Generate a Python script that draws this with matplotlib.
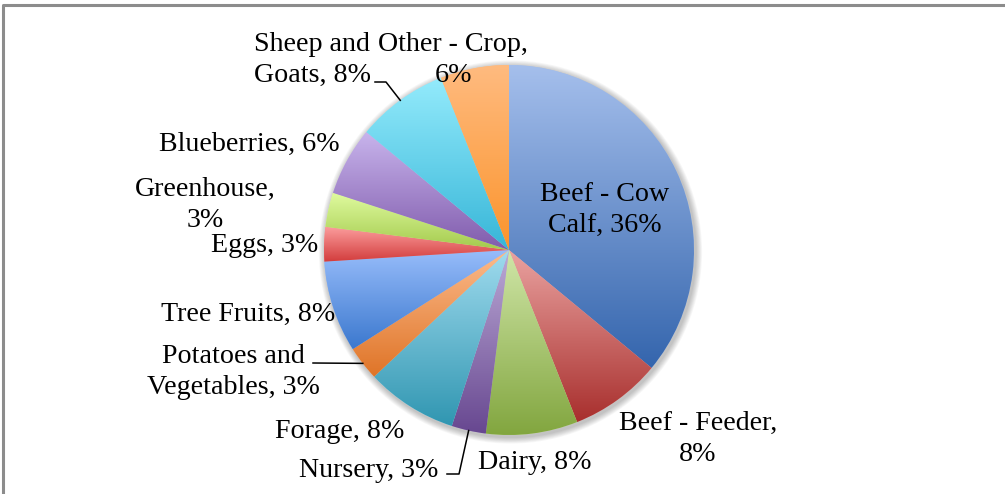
import numpy as np
import matplotlib.pyplot as plt
from matplotlib.colors import LinearSegmentedColormap
from matplotlib.patches import Circle

categories = ['Beef - Cow Calf', 'Beef - Feeder', 'Dairy', 'Nursery', 'Forage',
              'Potatoes and Vegetables', 'Tree Fruits', 'Eggs', 'Greenhouse',
              'Blueberries', 'Sheep and Goats', 'Other - Crop']
shares = [36, 8, 8, 3, 8, 3, 8, 3, 3, 6, 8, 6]
label_names = ['Beef - Cow\nCalf', 'Beef - Feeder,\n', 'Dairy', 'Nursery', 'Forage',
               'Potatoes and\nVegetables', 'Tree Fruits', 'Eggs', 'Greenhouse,\n',
               'Blueberries', 'Sheep and\nGoats', 'Other - Crop,\n']

# gradient colours (top, bottom) per slice
top_colors = ['#a5bfec', '#eaa3a1', '#d0e6a8', '#bcaad6', '#a0dbee', '#fcbb8c',
              '#98bdfb', '#fb9c9c', '#e0fba0', '#c8b4ec', '#94ebfc', '#ffbb80']
bottom_colors = ['#3465ad', '#a82f2d', '#82a63f', '#674790', '#3096b1', '#df7427',
                 '#3b78ce', '#d23c3c', '#a3ca4c', '#805bac', '#37b6d8', '#fb942c']

W, H = 1005, 494
cx, cy, R = 509, H - 250, 185

def px(x, y):
    return x, H - y

fig = plt.figure(figsize=(W / 100, H / 100), dpi=100)
ax = fig.add_axes([0, 0, 1, 1])

# soft shadow
for i in range(8):
    ax.add_patch(Circle((cx + 1.5, cy - 2), R + 1 + i * 0.8, color='black',
                        alpha=0.03, lw=0, zorder=0))

wedges, _ = ax.pie(shares, startangle=90, counterclock=False, center=(cx, cy),
                   radius=R, colors=top_colors, wedgeprops=dict(linewidth=0),
                   frame=True)

for w, c1, c2 in zip(wedges, top_colors, bottom_colors):
    th = np.radians(np.linspace(w.theta1, w.theta2, 200))
    xs = np.concatenate([[cx], cx + R * np.cos(th)])
    ys = np.concatenate([[cy], cy + R * np.sin(th)])
    cmap = LinearSegmentedColormap.from_list('g', [c2, c1])
    grad = np.linspace(0, 1, 256).reshape(-1, 1)
    im = ax.imshow(grad, cmap=cmap, origin='lower', aspect='auto',
                   extent=(xs.min(), xs.max(), ys.min(), ys.max()),
                   interpolation='bilinear', zorder=2)
    im.set_clip_path(w)

fs = 20.2
font = 'Liberation Serif'
texts = [f"{n}, {s}%" if not n.endswith('\n') else f"{n}{s}%"
         for n, s in zip(label_names, shares)]
# label positions (pixel anchor) and alignment
label_pos = [(605, 210, 'center'), (698, 439, 'center'), (535, 462, 'center'),
             (369, 470, 'center'), (340, 431, 'center'), (233, 372, 'center'),
             (248, 314, 'center'), (265, 246, 'center'), (205, 205, 'center'),
             (249, 144, 'center'), (254, 60, 'left'), (453, 60, 'center')]
for t, (x, y, ha) in zip(texts, label_pos):
    ax.text(*px(x, y), t, ha=ha, va='center', fontsize=fs, family=font,
            linespacing=1.34, color='black', zorder=5)

# leader lines
def edge(i):
    start = sum(shares[:i]) + shares[i] / 2
    a = np.radians(90 - start / sum(shares) * 360)
    return cx + R * np.cos(a), cy + R * np.sin(a)

leaders = {10: [(386, 82), (375, 82)], 5: [(313, 363)], 3: [(459, 474), (447, 474)]}
for i, pts in leaders.items():
    ex, ey = edge(i)
    xs = [ex] + [p[0] for p in pts]
    ys = [ey] + [H - p[1] for p in pts]
    ax.plot(xs, ys, color='black', lw=1.1, zorder=4)

# chart frame
ax.plot([3, 3, W + 5], [-5, H - 5, H - 5], color='#8c8c8c', lw=2.2, zorder=6)

ax.set_xlim(0, W)
ax.set_ylim(0, H)
ax.set_aspect('equal')
ax.axis('off')
fig.savefig('out.png', dpi=100)
